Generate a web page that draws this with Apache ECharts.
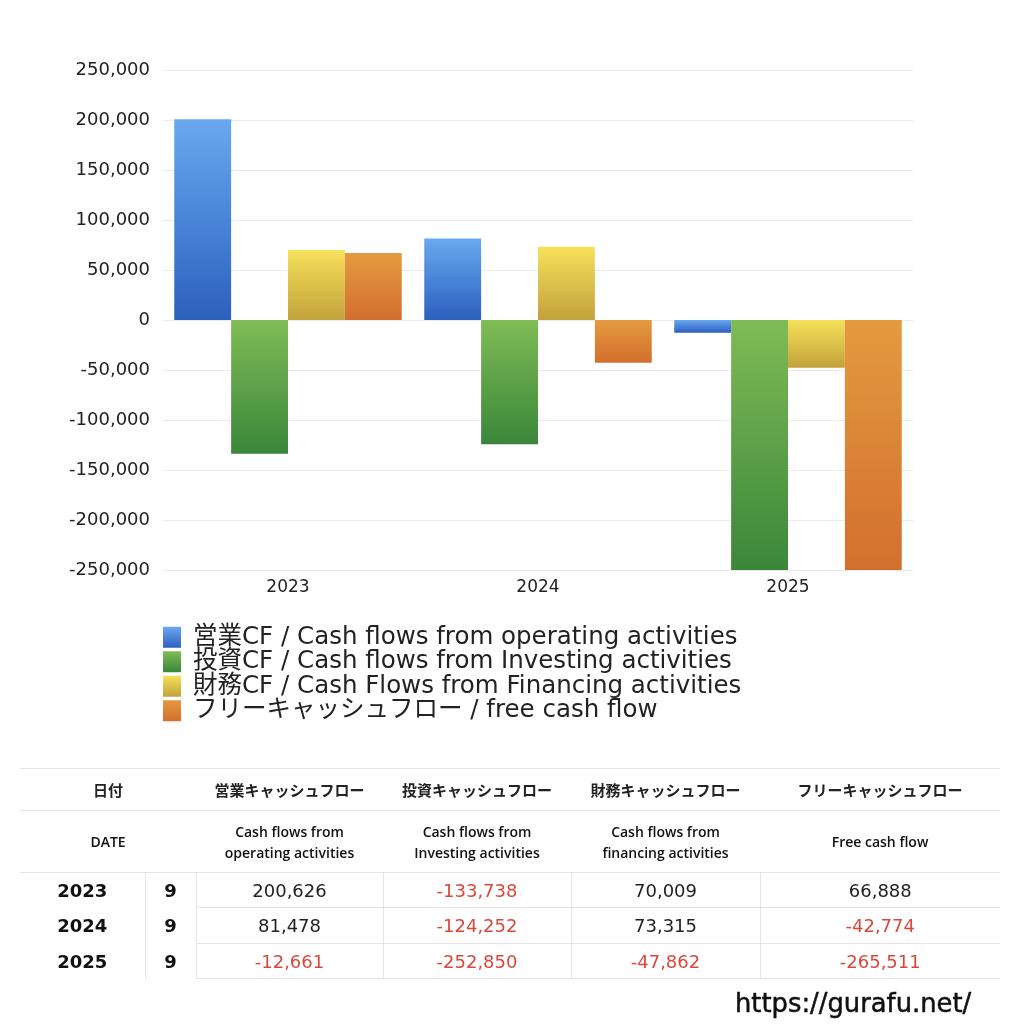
<!DOCTYPE html>
<html><head><meta charset="utf-8">
<script src="https://cdn.jsdelivr.net/npm/echarts@6/dist/echarts.min.js"></script>
<style>
html,body{margin:0;padding:0;background:#fff;}
#chart{position:absolute;left:0;top:0;width:1024px;height:1024px;}
#tbl{position:absolute;left:20px;top:768px;border-collapse:collapse;table-layout:fixed;font-family:"DejaVu Sans","Noto Sans CJK JP",sans-serif;color:#222;}
#tbl td{padding:0;text-align:center;vertical-align:middle;}
#tbl .h1 td{height:41px;font-size:15px;font-weight:bold;font-family:"Noto Sans CJK JP",sans-serif;border-top:1px solid #e4e4e4;border-bottom:1px solid #e4e4e4;}
#tbl .h2 td{height:61px;font-size:14px;line-height:21px;color:#111;font-family:"Open Sans","Noto Sans",sans-serif;font-weight:600;border-bottom:1px solid #e4e4e4;}
#tbl .d td{height:34px;font-size:18px;}
#tbl .d.mid td{height:35px;}
#tbl .d td.yr{font-weight:bold;color:#111;}
#tbl .d td.v{border-left:1px solid #e4e4e4;border-bottom:1px solid #e4e4e4;}
#tbl .d td.m{border-left:1px solid #e4e4e4;}
#tbl .neg{color:#d9483b;}
#wm{position:absolute;left:735px;top:988px;font-family:"DejaVu Sans",sans-serif;font-size:25.8px;color:#111;-webkit-text-stroke:0.5px #111;}
</style>
</head><body>
<div id="chart"></div>
<table id="tbl"></table>
<div id="wm">https://gurafu.net/</div>
<script>
const categories = ['2023', '2024', '2025'];
const months = ['9', '9', '9'];
const operatingCF = [200626, 81478, -12661];
const investingCF = [-133738, -124252, -252850];
const financingCF = [70009, 73315, -47862];
const freeCF = [66888, -42774, -265511];
const yTicks = [-250000, 250000, 50000]; // min, max, interval

const seriesNames = [
  '営業CF / Cash flows from operating activities',
  '投資CF / Cash flows from Investing activities',
  '財務CF / Cash Flows from Financing activities',
  'フリーキャッシュフロー / free cash flow'
];
const seriesData = [operatingCF, investingCF, financingCF, freeCF];
const grads = [
  ['#6aa8f0', '#2b60be'],
  ['#80bc56', '#3a863a'],
  ['#f6e15a', '#c2a23c'],
  ['#e49a40', '#d36f2e']
];
function grad(c) {
  return new echarts.graphic.LinearGradient(0, 0, 0, 1, [{offset: 0, color: c[0]}, {offset: 1, color: c[1]}]);
}
const fmt = v => v.toLocaleString('en-US');
const FONT = '"DejaVu Sans","Noto Sans CJK JP",sans-serif';

const chart = echarts.init(document.getElementById('chart'));
chart.setOption({
  animation: false,
  backgroundColor: '#fff',
  textStyle: {fontFamily: FONT},
  grid: {left: 163, right: 111, top: 70, bottom: 454, containLabel: false},
  legend: {
    orient: 'vertical', left: 158, top: 620, itemGap: 0,
    itemWidth: 18, itemHeight: 21, icon: 'rect',
    textStyle: {fontSize: 24.5, color: '#222', padding: [0, 0, 0, 7], lineHeight: 24, fontFamily: FONT},
    data: seriesNames
  },
  xAxis: {
    type: 'category', data: categories,
    axisLine: {show: false}, axisTick: {show: false},
    axisLabel: {fontSize: 17, color: '#222', margin: 9, fontFamily: FONT}
  },
  yAxis: {
    type: 'value', min: yTicks[0], max: yTicks[1], interval: yTicks[2],
    axisLine: {show: false}, axisTick: {show: false},
    splitLine: {lineStyle: {color: '#ebebeb', width: 1}},
    axisLabel: {fontSize: 18, color: '#222', margin: 13, padding: [4, 0, 0, 0], fontFamily: FONT, formatter: v => fmt(v)}
  },
  series: seriesData.map((d, i) => ({
    name: seriesNames[i], type: 'bar', data: d,
    barGap: '0%', barCategoryGap: '9%', clip: true,
    itemStyle: {color: grad(grads[i])}
  }))
});

// Table
const tbl = document.getElementById('tbl');
const colW = [125, 51, 187, 188, 189, 240];
let html = '<colgroup>' + colW.map(w => '<col style="width:' + w + 'px">').join('') + '</colgroup>';
html += '<tr class="h1"><td colspan="2">日付</td><td>営業キャッシュフロー</td><td>投資キャッシュフロー</td><td>財務キャッシュフロー</td><td>フリーキャッシュフロー</td></tr>';
html += '<tr class="h2"><td colspan="2">DATE</td><td>Cash flows from<br>operating activities</td><td>Cash flows from<br>Investing activities</td><td>Cash flows from<br>financing activities</td><td>Free cash flow</td></tr>';
categories.forEach((y, r) => {
  html += '<tr class="d' + (r === 1 ? ' mid' : '') + '"><td class="yr">' + y + '</td><td class="m yr">' + months[r] + '</td>';
  seriesData.forEach(d => {
    const v = d[r];
    html += '<td class="v' + (v < 0 ? ' neg' : '') + '">' + fmt(v) + '</td>';
  });
  html += '</tr>';
});
tbl.innerHTML = html;
</script>
</body></html>
